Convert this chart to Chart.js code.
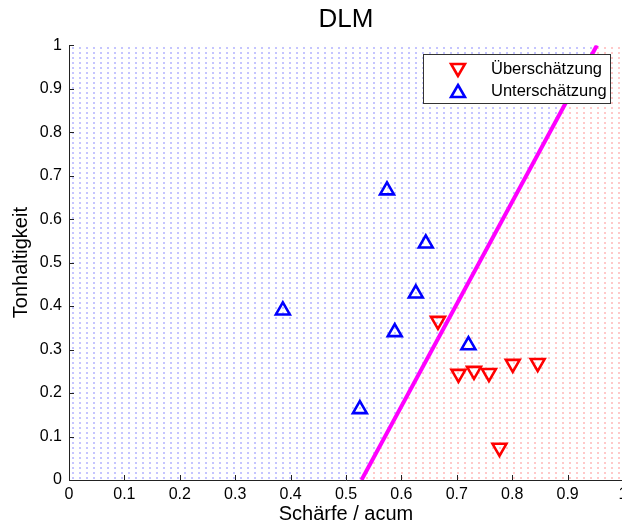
<!DOCTYPE html>
<html>
<head>
<meta charset="utf-8">
<script src="https://cdn.jsdelivr.net/npm/chart.js@4.4.1/dist/chart.umd.min.js"></script>
<style>
  html, body { margin: 0; padding: 0; background: #fff; overflow: hidden; }
  #wrap { width: 640px; height: 524px; }
</style>
</head>
<body>
<div id="wrap"><canvas id="c"></canvas></div>
<script>
// Daten
const tickLabels = ['0', '0.1', '0.2', '0.3', '0.4', '0.5', '0.6', '0.7', '0.8', '0.9', '1'];

const ueberX = [0.666, 0.703, 0.731, 0.758, 0.801, 0.846, 0.777];
const ueberY = [0.366, 0.244, 0.251, 0.246, 0.267, 0.269, 0.074];

const unterX = [0.386, 0.574, 0.644, 0.626, 0.588, 0.525, 0.721];
const unterY = [0.390, 0.666, 0.544, 0.429, 0.340, 0.163, 0.310];

const grenzeX = [0.528, 0.953];
const grenzeY = [0, 1];

const toPts = (xs, ys) => xs.map((x, i) => ({ x, y: ys[i] }));

/* ========= Punktmuster für den Hintergrund ========= */
function dotPattern(ctx, color) {
  const p = document.createElement('canvas');
  p.width = 7; p.height = 5;
  const pc = p.getContext('2d');
  pc.fillStyle = color;
  pc.fillRect(2, 2, 2, 2);
  return ctx.createPattern(p, 'repeat');
}

const regionPlugin = {
  id: 'region',
  beforeDatasetsDraw(chart) {
    const { ctx, chartArea: a, scales: { x, y } } = chart;
    const x0 = x.getPixelForValue(grenzeX[0]), y0 = y.getPixelForValue(grenzeY[0]);
    const x1 = x.getPixelForValue(grenzeX[1]), y1 = y.getPixelForValue(grenzeY[1]);
    ctx.save();
    ctx.beginPath();
    ctx.rect(a.left, a.top, a.right - a.left, a.bottom - a.top);
    ctx.clip();
    ctx.fillStyle = dotPattern(ctx, 'rgba(255,120,120,0.4)');
    ctx.fillRect(a.left, a.top, a.right - a.left, a.bottom - a.top);
    ctx.fillStyle = '#fff';
    ctx.beginPath();
    ctx.moveTo(a.left, a.bottom);
    ctx.lineTo(x0, y0);
    ctx.lineTo(x1, y1);
    ctx.lineTo(a.left, a.top);
    ctx.closePath();
    ctx.fill();
    ctx.fillStyle = dotPattern(ctx, 'rgba(110,110,255,0.4)');
    ctx.fill();
    ctx.restore();
  }
};

// Achsen + innenliegende Ticks (wie MATLAB)
const axesPlugin = {
  id: 'innerAxes',
  afterDatasetsDraw(chart) {
    const { ctx, chartArea: a, scales: { x, y } } = chart;
    ctx.save();
    ctx.strokeStyle = '#222';
    ctx.lineWidth = 1;
    ctx.beginPath();
    ctx.moveTo(a.left + 0.5, a.top);
    ctx.lineTo(a.left + 0.5, a.bottom + 0.5);
    ctx.lineTo(a.right, a.bottom + 0.5);
    x.ticks.forEach(t => {
      const px = Math.round(x.getPixelForValue(t.value)) + 0.5;
      ctx.moveTo(px, a.bottom);
      ctx.lineTo(px, a.bottom - 5);
    });
    y.ticks.forEach(t => {
      const py = Math.round(y.getPixelForValue(t.value)) + 0.5;
      ctx.moveTo(a.left, py);
      ctx.lineTo(a.left + 5, py);
    });
    ctx.stroke();
    ctx.restore();
  }
};

const legendPlugin = {
  id: 'boxLegend',
  afterDraw(chart) {
    const { ctx } = chart;
    const L = 423, T = 54, W = 187, H = 49;
    ctx.save();
    ctx.fillStyle = '#fff';
    ctx.fillRect(L, T, W, H);
    ctx.strokeStyle = '#333';
    ctx.lineWidth = 1;
    ctx.strokeRect(L + 0.5, T + 0.5, W, H);
    ctx.font = '16.5px "Liberation Sans", Arial, sans-serif';
    ctx.textBaseline = 'middle';
    chart.data.datasets.slice(0, 2).forEach((ds, i) => {
      const cy = T + 15 + i * 22;
      ctx.fillStyle = 'rgba(0,0,0,0)';
      ctx.strokeStyle = ds.borderColor;
      ctx.lineWidth = 2.6;
      Chart.helpers.drawPoint(ctx, {
        pointStyle: 'triangle', rotation: ds.rotation, radius: 8,
        borderWidth: 2.6
      }, 458, cy + (ds.rotation ? -1 : 2));
      ctx.fillStyle = '#000';
      ctx.fillText(ds.label, 491, cy);
    });
    ctx.restore();
  }
};

const font = { family: '"Liberation Sans", Arial, sans-serif' };

new Chart(document.getElementById('c'), {
  type: 'scatter',
  data: {
    datasets: [
      {
        label: 'Überschätzung',
        data: toPts(ueberX, ueberY),
        pointStyle: 'triangle', rotation: 180,
        pointRadius: 8, pointBorderWidth: 2.6,
        borderColor: '#ff0000', backgroundColor: 'rgba(0,0,0,0)',
        pointHoverRadius: 8
      },
      {
        label: 'Unterschätzung',
        data: toPts(unterX, unterY),
        pointStyle: 'triangle', rotation: 0,
        pointRadius: 8, pointBorderWidth: 2.6,
        borderColor: '#0000ff', backgroundColor: 'rgba(0,0,0,0)',
        pointHoverRadius: 8
      },
      {
        label: 'Grenze',
        type: 'line',
        data: toPts(grenzeX, grenzeY),
        borderColor: '#ff00ff', borderWidth: 4,
        pointRadius: 0, fill: false
      }
    ]
  },
  options: {
    responsive: true,
    maintainAspectRatio: false,
    animation: false,
    layout: { padding: { top: 0, right: 17, bottom: 0, left: 0 } },
    scales: {
      x: {
        type: 'linear', min: 0, max: 1,
        ticks: {
          stepSize: 0.1, color: '#000', padding: 5,
          font: { ...font, size: 16 },
          callback: (v, i) => tickLabels[i]
        },
        grid: { display: false, drawTicks: false },
        border: { display: false },
        title: { display: true, text: 'Schärfe / acum', color: '#000', font: { ...font, size: 20, lineHeight: 1.0 }, padding: { top: 0, bottom: 0 } },
        afterFit: s => { s.height = 44; }
      },
      y: {
        type: 'linear', min: 0, max: 1,
        ticks: {
          stepSize: 0.1, color: '#000', padding: 7,
          font: { ...font, size: 16 },
          callback: (v, i) => tickLabels[i]
        },
        grid: { display: false, drawTicks: false },
        border: { display: false },
        title: { display: true, text: 'Tonhaltigkeit', color: '#000', font: { ...font, size: 20 }, padding: { top: 9, bottom: 0 } },
        afterFit: s => { s.width = 69; }
      }
    },
    plugins: {
      legend: { display: false },
      tooltip: { enabled: false },
      title: {
        display: true, text: 'DLM', color: '#000', fullSize: false,
        font: { ...font, size: 26, weight: 'normal' },
        padding: { top: 4, bottom: 10 }
      }
    }
  },
  plugins: [regionPlugin, axesPlugin, legendPlugin]
});
</script>
</body>
</html>
